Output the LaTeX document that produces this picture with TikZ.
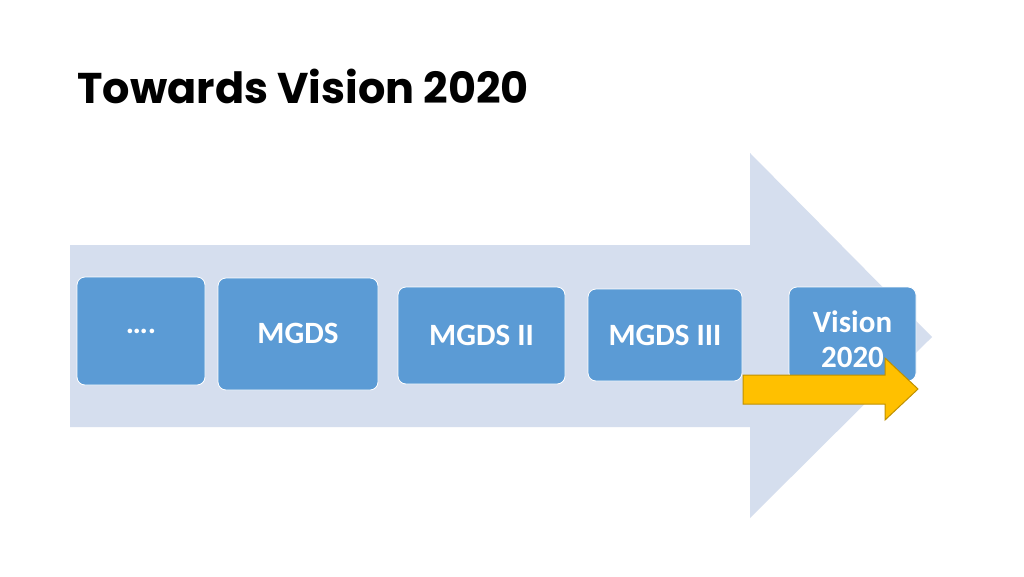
\documentclass[tikz,border=0pt]{standalone}
\usepackage{fontspec}
\setmainfont{Carlito}
\newfontfamily\titlefont{Poppins}
\begin{document}
\begin{tikzpicture}[x=1pt,y=-1pt]
\definecolor{bigarrow}{HTML}{D5DEEE}
\definecolor{boxblue}{HTML}{5B9BD5}
\definecolor{gold}{HTML}{FFC000}
\definecolor{goldline}{HTML}{BF9000}
\tikzset{stagebox/.style={draw=white,line width=0.8pt,fill=boxblue,rounded corners=8pt,text=white,align=center},
 stagetext/.style={text=white,font=\bfseries\fontsize{31}{34}\selectfont,align=center}}
\useasboundingbox[fill=white] (0,0) rectangle (1024,576);
\node[anchor=west,font=\titlefont\bfseries\fontsize{43}{48}\selectfont] (title) at (74,86) {Towards Vision 2020};
\fill[bigarrow] (70,245) -- (750,245) -- (750,153) -- (932,337) -- (750,518) -- (750,427) -- (70,427) -- cycle;
\node[stagebox,minimum width=128pt,minimum height=108pt] (b1) at (141,331) {};
\node[stagebox,minimum width=160pt,minimum height=112pt] (b2) at (298,334) {};
\node[stagebox,minimum width=167pt,minimum height=97pt] (b3) at (481.5,335.5) {};
\node[stagebox,minimum width=154pt,minimum height=92pt] (b4) at (665,335) {};
\node[stagebox,minimum width=127pt,minimum height=94pt] (b5) at (852.5,334) {};
\node[stagetext] (t1) at (b1.center) {….};
\node[stagetext] (t2) at (298,333) {MGDS};
\node[stagetext] (t3) at (481.5,335) {MGDS II};
\node[stagetext] (t4) at (665,335) {MGDS III};
\node[stagetext,font=\bfseries\fontsize{31}{35}\selectfont] (t5) at (852.5,339) {Vision\\2020};
\draw[goldline,fill=gold,line width=1pt] (743,375) -- (885,375) -- (885,358) -- (918,389) -- (885,420) -- (885,404) -- (743,404) -- cycle;
\end{tikzpicture}
\end{document}
